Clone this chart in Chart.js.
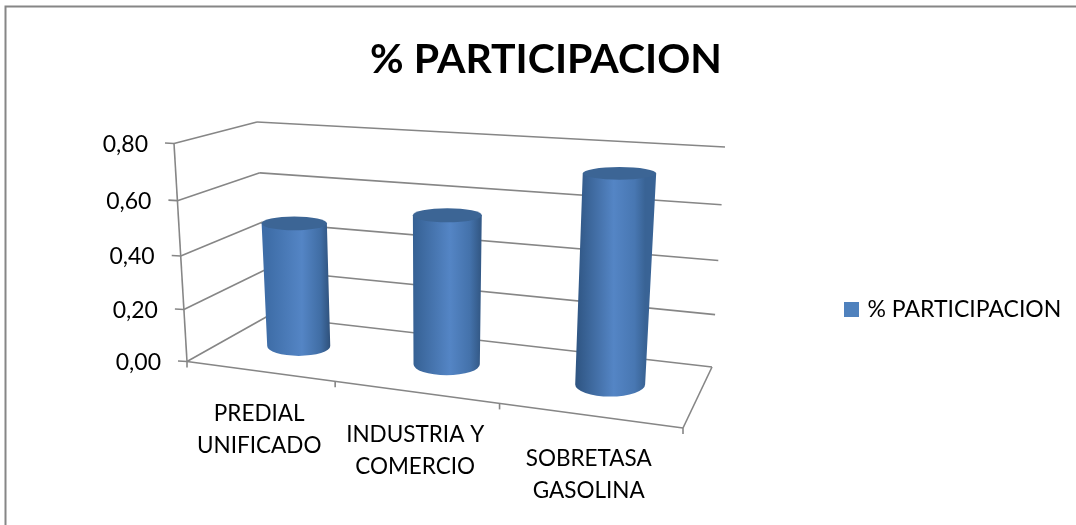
<!DOCTYPE html>
<html>
<head>
<meta charset="utf-8">
<title>% PARTICIPACION</title>
<script src="https://cdn.jsdelivr.net/npm/chart.js@4/dist/chart.umd.min.js"></script>
<style>
  html, body { margin: 0; padding: 0; background: #fff; }
  canvas { display: block; }
</style>
</head>
<body>
<canvas id="participacionChart" width="1076" height="525"></canvas>
<script>
const seriesName = '% PARTICIPACION';
const categories = [['PREDIAL', 'UNIFICADO'], ['INDUSTRIA Y', 'COMERCIO'], ['SOBRETASA', 'GASOLINA']];
const participacion = [0.48, 0.555, 0.74];
const yMax = 0.8;
const yStep = 0.2;

const FONT = 'Lato, Carlito, sans-serif';
const LINE = '#868686';

// floor and top of the 3D box as seen on screen: front-left, front-right, back-right, back-left
const floorQuad = [[187, 361.5], [683, 428], [712, 367], [268, 316]];
const topQuad = [[174, 143.5], [700, 176], [725, 147], [257, 122]];

function homography(q) {
  const [[x0, y0], [x1, y1], [x2, y2], [x3, y3]] = q;
  const dx1 = x1 - x2, dx2 = x3 - x2, sx = x0 - x1 + x2 - x3;
  const dy1 = y1 - y2, dy2 = y3 - y2, sy = y0 - y1 + y2 - y3;
  const den = dx1 * dy2 - dx2 * dy1;
  const g = (sx * dy2 - dx2 * sy) / den;
  const h = (dx1 * sy - sx * dy1) / den;
  return (u, d) => {
    const w = g * u + h * d + 1;
    return [
      ((x1 - x0 + g * x1) * u + (x3 - x0 + h * x3) * d + x0) / w,
      ((y1 - y0 + g * y1) * u + (y3 - y0 + h * y3) * d + y0) / w
    ];
  };
}
const floorAt = homography(floorQuad);
const topAt = homography(topQuad);

// u across the categories, v up the value axis, d into the picture (all 0..1)
function project(u, v, d) {
  const a = floorAt(u, d), b = topAt(u, d);
  const t = v / (1 + 0.066 * (1 - v)); // the upper gridlines sit a little further apart
  return [a[0] + (b[0] - a[0]) * t, a[1] + (b[1] - a[1]) * t];
}

function segment(ctx, p, q) {
  ctx.beginPath();
  ctx.moveTo(p[0], p[1]);
  ctx.lineTo(q[0], q[1]);
  ctx.stroke();
}

function mix(c1, c2, t) {
  const out = c1.map((c, i) => Math.round(c + (c2[i] - c) * t));
  return `rgb(${out[0]},${out[1]},${out[2]})`;
}

function drawCylinder(ctx, u, v, ru) {
  const depth = 0.5, rd = 0.21;
  const ellipseAt = level => {
    const c = project(u, level, depth);
    // widths grow less towards the right than the box does
    const rx = (project(u + ru, level, depth)[0] - project(u - ru, level, depth)[0]) / 2 * (1.04 - 0.14 * u);
    const ry = Math.abs(project(u, level, depth - rd)[1] - project(u, level, depth + rd)[1]) / 2;
    return { x: c[0], y: c[1], rx, ry };
  };
  const top = ellipseAt(v), bot = ellipseAt(0);

  const grad = ctx.createLinearGradient(bot.x - bot.rx, 0, bot.x + bot.rx, 0);
  grad.addColorStop(0, mix([66, 115, 176], [42, 78, 120], u));
  grad.addColorStop(0.55, '#5485c5');
  grad.addColorStop(0.85, mix([62, 106, 160], [74, 122, 182], u));
  grad.addColorStop(1, mix([44, 76, 116], [60, 104, 156], u));

  ctx.beginPath();
  ctx.moveTo(top.x - top.rx, top.y);
  ctx.lineTo(bot.x - bot.rx, bot.y);
  ctx.ellipse(bot.x, bot.y, bot.rx, bot.ry, 0, Math.PI, 0, true);
  ctx.lineTo(top.x + top.rx, top.y);
  ctx.closePath();
  ctx.fillStyle = grad;
  ctx.fill();

  ctx.beginPath();
  ctx.ellipse(top.x, top.y, top.rx, top.ry, 0, 0, Math.PI * 2);
  ctx.fillStyle = '#3c6595';
  ctx.fill();
}

const scene3d = {
  id: 'scene3d',
  afterLayout(chart) {
    // legend sits lower than the native layout would put it
    const lg = chart.legend;
    const w = lg.right - lg.left, h = lg.bottom - lg.top;
    lg.left = 837; lg.right = 837 + w;
    lg.top = 288; lg.bottom = 288 + h;
  },
  beforeDraw(chart) {
    const ctx = chart.ctx;
    ctx.save();
    ctx.strokeStyle = LINE;
    ctx.lineWidth = 2;
    ctx.beginPath();
    ctx.moveTo(5.5, 525);
    ctx.lineTo(5.5, 6.5);
    ctx.lineTo(1076, 6.5);
    ctx.stroke();
    ctx.restore();
  },
  // the bars are replaced by projected cylinders, so the native drawing is skipped
  beforeDatasetsDraw(chart) {
    const ctx = chart.ctx;
    const xs = chart.scales.x, ys = chart.scales.y;
    const area = chart.chartArea;
    const vOf = val => (ys.bottom - ys.getPixelForValue(val)) / (ys.bottom - ys.top);
    const n = chart.data.labels.length;

    ctx.save();
    ctx.strokeStyle = LINE;
    ctx.lineWidth = 1.6;
    ctx.fillStyle = '#000';
    ctx.font = `23px ${FONT}`;
    ctx.textAlign = 'right';
    ctx.textBaseline = 'middle';

    ys.ticks.forEach(t => {
      const v = vOf(t.value);
      const front = project(0, v, 0);
      segment(ctx, [front[0] - 9, front[1] - 0.5], front);
      segment(ctx, front, project(0, v, 1));
      segment(ctx, project(0, v, 1), project(1, v, 1));
      ctx.fillText(t.label, front[0] - 26, front[1] + 1);
    });
    segment(ctx, project(0, 0, 0), project(0, 1, 0));

    // floor
    segment(ctx, project(0, 0, 0), project(1, 0, 0));
    segment(ctx, project(1, 0, 0), project(1, 0, 1));
    for (let i = 0; i <= n; i++) {
      const p = project(i / n, 0, 0);
      segment(ctx, p, [p[0], p[1] + 6]);
    }

    // category labels under the front edge
    ctx.font = `22.5px ${FONT}`;
    ctx.textAlign = 'center';
    chart.data.labels.forEach((lines, i) => {
      const u = (xs.getPixelForValue(i) - area.left) / area.width;
      const p = project(u, 0, 0);
      lines.forEach((line, j) => ctx.fillText(line, p[0], p[1] + 43 + j * 32));
    });

    chart.getDatasetMeta(0).data.forEach((bar, i) => {
      const u = (bar.x - area.left) / area.width;
      const ru = bar.width / 2 / area.width;
      drawCylinder(ctx, u, vOf(participacion[i]), ru);
    });
    ctx.restore();
    return false;
  }
};

new Chart(document.getElementById('participacionChart'), {
  type: 'bar',
  data: {
    labels: categories,
    datasets: [{
      label: seriesName,
      data: participacion,
      backgroundColor: '#4f81bd',
      borderColor: '#4f81bd',
      borderWidth: 6,
      categoryPercentage: 0.44,
      barPercentage: 1
    }]
  },
  options: {
    responsive: false,
    animation: false,
    layout: { padding: { left: 16, bottom: 163 } },
    plugins: {
      title: {
        display: true,
        text: seriesName,
        color: '#000',
        font: { family: FONT, size: 41, weight: 'bold' },
        padding: { top: 35, bottom: 60 }
      },
      legend: {
        position: 'right',
        align: 'start',
        labels: {
          color: '#000',
          font: { family: FONT, size: 23 },
          boxWidth: 9,
          boxHeight: 9,
          padding: 10
        }
      },
      tooltip: { enabled: false }
    },
    scales: {
      x: {
        grid: { display: false },
        border: { display: false },
        ticks: { display: false }
      },
      y: {
        min: 0,
        max: yMax,
        grid: { display: false },
        border: { display: false },
        ticks: {
          display: false,
          stepSize: yStep,
          callback: value => value.toFixed(2).replace('.', ',')
        }
      }
    }
  },
  plugins: [scene3d]
});
</script>
</body>
</html>
